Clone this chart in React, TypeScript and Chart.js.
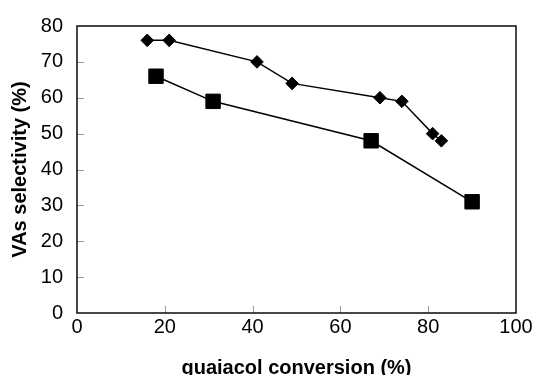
import React, { useEffect, useRef } from "react";
import { Chart, registerables } from "chart.js";

Chart.register(...registerables);

// Series A (diamonds)
const diamondConversion = [16, 21, 41, 49, 69, 74, 81, 83];
const diamondSelectivity = [76, 76, 70, 64, 60, 59, 50, 48];
// Series B (squares)
const squareConversion = [18, 31, 67, 90];
const squareSelectivity = [66, 59, 48, 31];

const xTicks = [0, 20, 40, 60, 80, 100];
const yTicks = [0, 10, 20, 30, 40, 50, 60, 70, 80];

const FONT = "'Liberation Sans', Arial, Helvetica, sans-serif";

const framePlugin = {
  id: "frame",
  beforeDatasetsDraw(chart: any) {
    const { ctx, chartArea } = chart;
    const xs = chart.scales.x;
    const ys = chart.scales.y;
    ctx.save();
    // inward ticks
    ctx.strokeStyle = "#9a9a9a";
    ctx.lineWidth = 1;
    ctx.beginPath();
    xTicks.slice(1, -1).forEach((v) => {
      const px = Math.round(xs.getPixelForValue(v)) + 0.5;
      ctx.moveTo(px, chartArea.bottom);
      ctx.lineTo(px, chartArea.bottom - 7);
    });
    yTicks.slice(1, -1).forEach((v) => {
      const py = Math.round(ys.getPixelForValue(v)) + 0.5;
      ctx.moveTo(chartArea.left, py);
      ctx.lineTo(chartArea.left + 7, py);
    });
    ctx.stroke();
    // frame
    ctx.strokeStyle = "#1a1a1a";
    ctx.lineWidth = 1.6;
    ctx.strokeRect(
      chartArea.left,
      chartArea.top,
      chartArea.right - chartArea.left,
      chartArea.bottom - chartArea.top
    );
    ctx.restore();
  },
};

export default function App() {
  const ref = useRef<HTMLCanvasElement | null>(null);

  useEffect(() => {
    document.body.style.margin = "0";
    const canvas = ref.current;
    if (!canvas) return;
    const toPts = (xs: number[], ys: number[]) => xs.map((x, i) => ({ x, y: ys[i] }));
    const chart = new Chart(canvas, {
      type: "scatter",
      data: {
        datasets: [
          {
            label: "diamonds",
            data: toPts(diamondConversion, diamondSelectivity),
            showLine: true,
            borderColor: "#000",
            backgroundColor: "#000",
            borderWidth: 1.5,
            pointStyle: "rectRot",
            pointRadius: 6.3,
            pointBorderWidth: 1,
            pointBackgroundColor: "#000",
            pointBorderColor: "#000",
          },
          {
            label: "squares",
            data: toPts(squareConversion, squareSelectivity),
            showLine: true,
            borderColor: "#000",
            backgroundColor: "#000",
            borderWidth: 1.5,
            pointStyle: "rect",
            pointRadius: 10.2,
            pointBorderWidth: 1,
            pointBackgroundColor: "#000",
            pointBorderColor: "#000",
          },
        ],
      },
      options: {
        responsive: false,
        animation: false,
        layout: { padding: { top: 21, right: 19, left: 0, bottom: 0 } },
        plugins: { legend: { display: false }, tooltip: { enabled: false } },
        scales: {
          x: {
            type: "linear",
            min: 0,
            max: 100,
            afterBuildTicks: (s: any) => {
              s.ticks = xTicks.map((v) => ({ value: v }));
            },
            afterFit: (s: any) => {
              s.height = 62;
            },
            grid: { display: false, drawTicks: false },
            border: { display: false },
            ticks: {
              color: "#000",
              padding: 2,
              maxRotation: 0,
              font: { family: FONT, size: 20 },
            },
            title: {
              display: true,
              text: "guaiacol conversion (%)",
              color: "#000",
              font: { family: FONT, size: 20, weight: "bold", lineHeight: 1 },
              padding: { top: 0, bottom: -3 },
            },
          },
          y: {
            type: "linear",
            min: 0,
            max: 80,
            afterBuildTicks: (s: any) => {
              s.ticks = yTicks.map((v) => ({ value: v }));
            },
            afterFit: (s: any) => {
              s.width = 77;
            },
            grid: { display: false, drawTicks: false },
            border: { display: false },
            ticks: {
              color: "#000",
              padding: 14,
              font: { family: FONT, size: 20 },
            },
            title: {
              display: true,
              text: "VAs selectivity (%)",
              color: "#000",
              font: { family: FONT, size: 20, weight: "bold", lineHeight: 1 },
              padding: { top: 10, bottom: 0 },
            },
          },
        },
      },
      plugins: [framePlugin],
    });
    return () => chart.destroy();
  }, []);

  return <canvas ref={ref} width={535} height={375} style={{ display: "block" }} />;
}
